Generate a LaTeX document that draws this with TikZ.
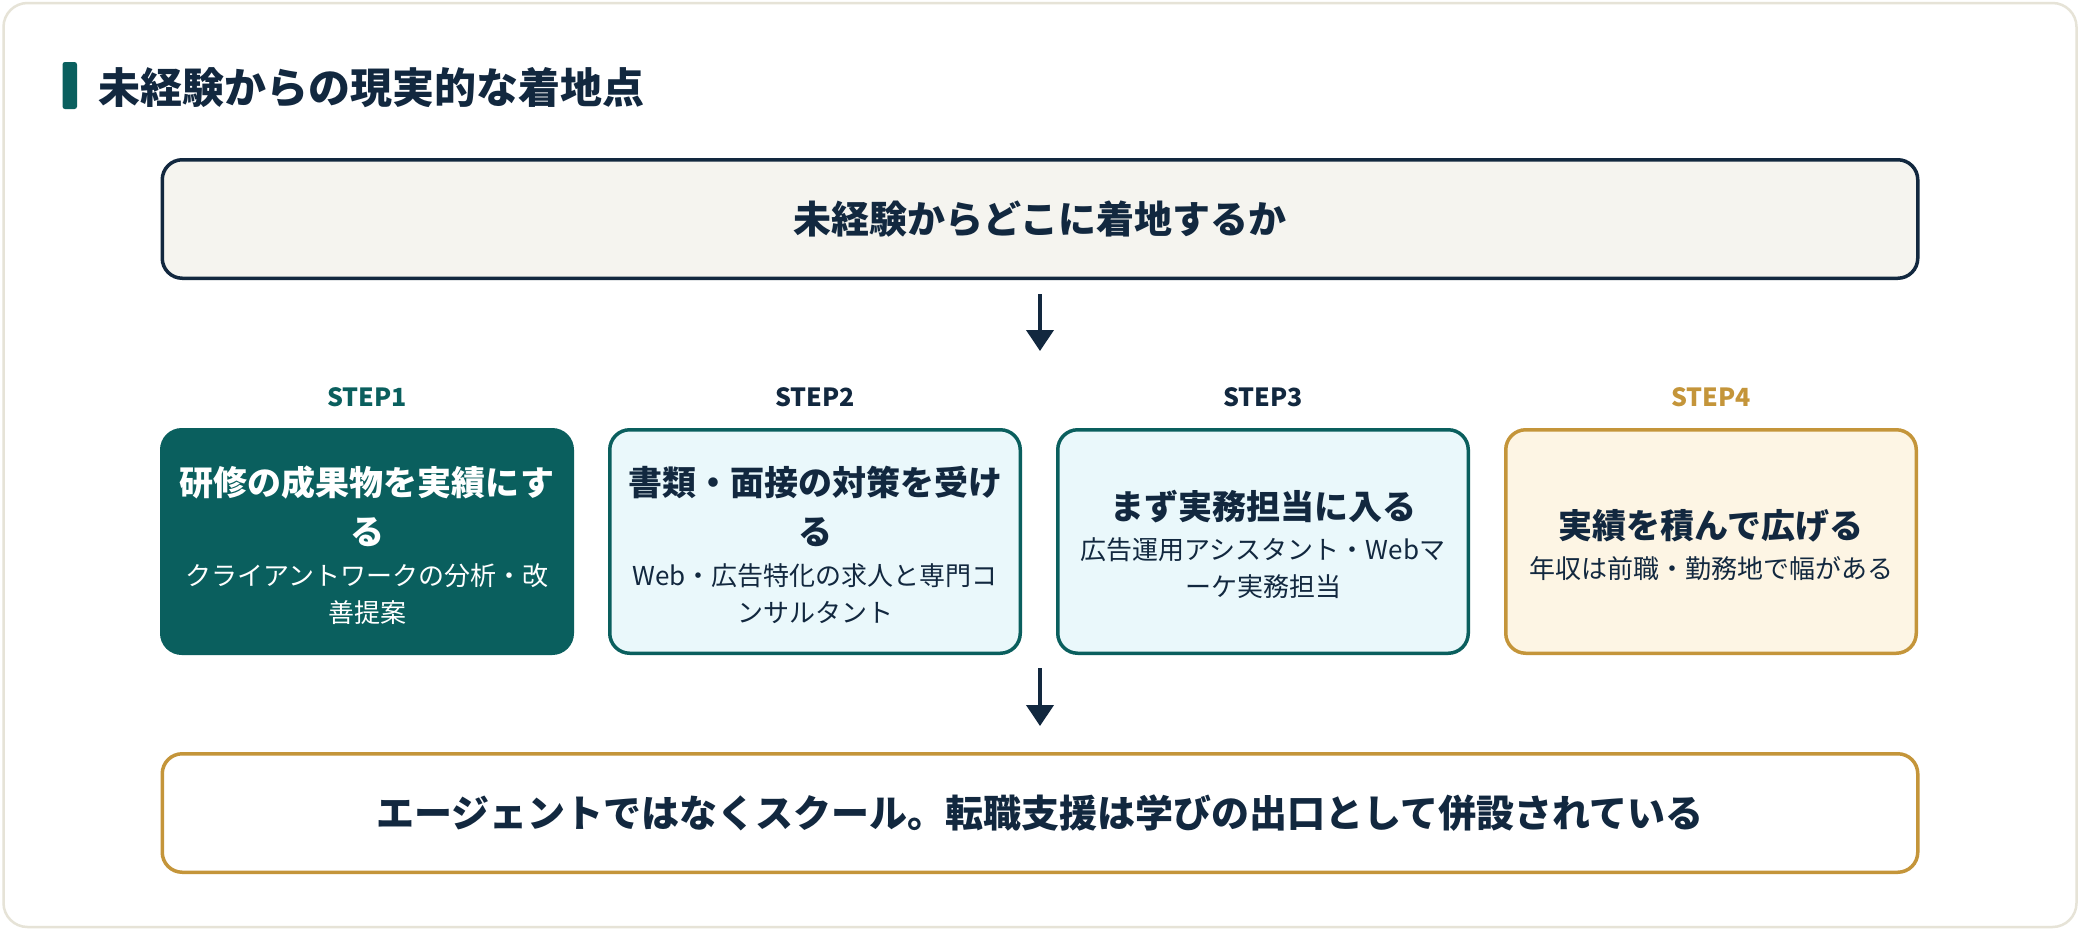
\documentclass[tikz,border=0pt]{standalone}
\usepackage{fontspec}
\setmainfont{Noto Sans CJK JP}
\usetikzlibrary{arrows.meta}
\definecolor{navy}{HTML}{12283F}
\definecolor{tealc}{HTML}{0A5F5E}
\definecolor{gold}{HTML}{C4953A}
\definecolor{lblue}{HTML}{EAF8FB}
\definecolor{cream}{HTML}{FDF5E4}
\definecolor{paper}{HTML}{F5F4EF}
\definecolor{cardline}{HTML}{E6E3D7}
\begin{document}
\begin{tikzpicture}[x=1pt,y=-1pt,
  card/.style={draw=cardline, line width=2.5pt, fill=white, rounded corners=24pt, inner sep=0pt},
  box/.style={rounded corners=20pt, line width=3.5pt, inner sep=0pt},
  bigbox/.style={box, minimum width=1755.5pt, minimum height=118.5pt, text=navy,
    font=\fontsize{38}{46}\selectfont\bfseries},
  stepbox/.style={box, minimum width=410.5pt, minimum height=223.5pt},
  steplabel/.style={inner sep=0pt, font=\fontsize{25}{30}\selectfont\bfseries},
  boxtitle/.style={inner sep=0pt, align=center, font=\fontsize{34}{49}\selectfont\bfseries},
  boxsub/.style={inner sep=0pt, align=center, font=\fontsize{26}{37}\selectfont},
  arr/.style={draw=navy, line width=4pt, -{Triangle[length=21pt,width=27pt]}}
]
\useasboundingbox (0,0) rectangle (2080,930);
\fill[white] (0,0) rectangle (2080,930);
\node[card, minimum width=2073pt, minimum height=924pt] (card) at (1040,465) {};

% heading
\node[fill=tealc, rounded corners=2.5pt, inner sep=0pt, minimum width=14.5pt, minimum height=47pt] (bar) at (69.75,85.5) {};
\node[anchor=west, inner sep=0pt, text=navy, font=\fontsize{42}{50}\selectfont\bfseries] (title) at (98,88) {未経験からの現実的な着地点};

% top box
\node[bigbox, draw=navy, fill=paper] (top) at (1040,219) {未経験からどこに着地するか};

% arrow 1
\coordinate (a1e) at (1040,351);
\draw[arr, shorten <=14pt] (top.south) -- (a1e);

% step labels
\node[steplabel, text=tealc] (l1) at (367,397) {STEP1};
\node[steplabel, text=navy] (l2) at (815,397) {STEP2};
\node[steplabel, text=navy] (l3) at (1263,397) {STEP3};
\node[steplabel, text=gold] (l4) at (1711,397) {STEP4};

% step boxes
\node[stepbox, draw=tealc, fill=tealc] (s1) at (367,541.5) {};
\node[stepbox, draw=tealc, fill=lblue] (s2) at (815,541.5) {};
\node[stepbox, draw=tealc, fill=lblue] (s3) at (1263,541.5) {};
\node[stepbox, draw=gold, fill=cream] (s4) at (1711,541.5) {};

\node[boxtitle, text=white] (t1) at (367,506.5) {研修の成果物を実績にす\\る};
\node[boxsub, text=white] (u1) at (367,594) {クライアントワークの分析・改\\善提案};
\node[boxtitle, text=navy] (t2) at (815,506.5) {書類・面接の対策を受け\\る};
\node[boxsub, text=navy] (u2) at (815,594) {Web・広告特化の求人と専門コ\\ンサルタント};
\node[boxtitle, text=navy] (t3) at (1263,507) {まず実務担当に入る};
\node[boxsub, text=navy] (u3) at (1263,568) {広告運用アシスタント・Webマ\\ーケ実務担当};
\node[boxtitle, text=navy] (t4) at (1711,526) {実績を積んで広げる};
\node[boxsub, text=navy] (u4) at (1711,569) {年収は前職・勤務地で幅がある};

% arrow 2
\coordinate (a2s) at (1040,668);
\coordinate (a2e) at (1040,726);
\draw[arr] (a2s) -- (a2e);

% bottom box
\node[bigbox, draw=gold, fill=white] (bottom) at (1040,813) {エージェントではなくスクール。転職支援は学びの出口として併設されている};
\end{tikzpicture}
\end{document}
